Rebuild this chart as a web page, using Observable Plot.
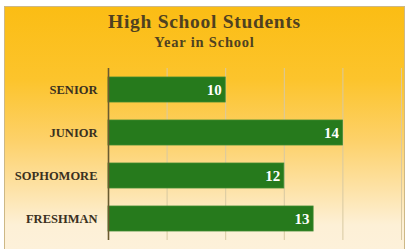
<!DOCTYPE html>
<html>
<head>
<meta charset="utf-8">
<script src="https://cdn.jsdelivr.net/npm/d3@7"></script>
<script src="https://cdn.jsdelivr.net/npm/@observablehq/plot@0.6"></script>
<style>
  html, body { margin: 0; padding: 0; background: #ffffff; }
  #panel {
    position: absolute; left: 4px; top: 6px; width: 401px; height: 243px;
    box-sizing: border-box; border: 1px solid #cdb886; border-bottom: none;
    background: linear-gradient(to bottom, #fbbd14 0%, #fcc42c 30%, #fdd169 55%, #fde2a6 75%, #fdf0d6 90%, #fdf1da 100%);
    overflow: hidden;
  }
  #title {
    position: absolute; left: 0; width: 100%; top: 8.3px; text-align: center;
    font-family: "Liberation Serif", serif; font-weight: bold; font-size: 19.5px;
    color: #4f4120; line-height: 0.7; letter-spacing: 0.7px; white-space: nowrap;
  }
  #subtitle {
    position: absolute; left: 0; width: 100%; top: 29.8px; text-align: center;
    font-family: "Liberation Serif", serif; font-weight: bold; font-size: 14.5px;
    color: #4f4120; line-height: 0.7; letter-spacing: 0.8px; white-space: nowrap;
  }
  #chart { position: absolute; left: 0; top: 49px; }
</style>
</head>
<body>
<div id="panel">
  <div id="title">High School Students</div>
  <div id="subtitle">Year in School</div>
  <div id="chart"></div>
</div>
<script>
const categories = ["SENIOR", "JUNIOR", "SOPHOMORE", "FRESHMAN"];
const students = [10, 14, 12, 13];
const axisMin = 6;
const axisMax = 16;
const gridTicks = [8, 10, 12, 14, 16];

const data = categories.map((c, i) => ({ year: c, count: students[i] }));

const chart = Plot.plot({
  width: 399,
  height: 194,
  marginTop: 12,
  marginBottom: 10,
  marginLeft: 103,
  marginRight: 3,
  style: { background: "transparent", overflow: "visible" },
  x: { domain: [axisMin, axisMax], axis: null },
  y: { domain: categories, paddingInner: 0.42, paddingOuter: 0.21, label: null },
  marks: [
    Plot.ruleX(gridTicks, { stroke: "#d8c9a2", strokeWidth: 1 }),
    Plot.barX(data, { x1: () => axisMin, x2: "count", y: "year", fill: "#267a1c", stroke: "#3f8a30", strokeWidth: 0.8 }),
    Plot.ruleX([axisMin], { stroke: "#6b5a30", strokeWidth: 1.6 }),
    Plot.text(data, { x: "count", y: "year", text: d => String(d.count), textAnchor: "end", dx: -4,
      fill: "#ffffff", fontFamily: "Liberation Serif, serif", fontWeight: "bold", fontSize: 15 }),
    Plot.axisY({ tickSize: 0, tickPadding: 11, label: null, fontFamily: "Liberation Serif, serif",
      fontWeight: "bold", fontSize: 12.5, fill: "#3a3020", color: "#3a3020" })
  ]
});
document.getElementById("chart").appendChild(chart);
</script>
</body>
</html>
